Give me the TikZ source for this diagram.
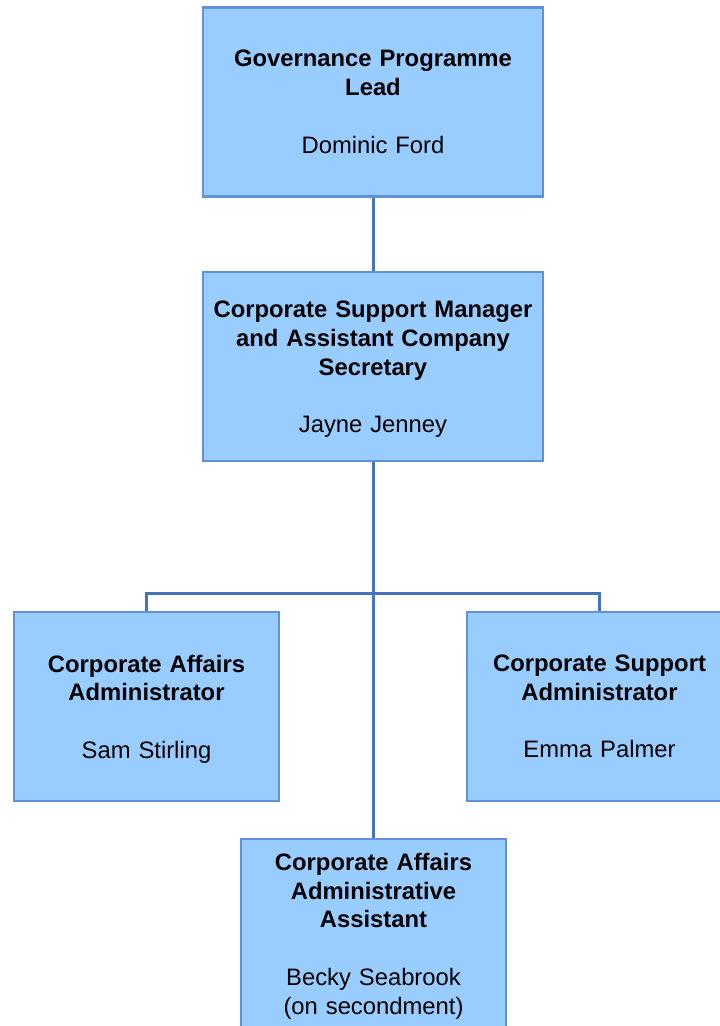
\documentclass[tikz,border=0pt]{standalone}
\usepackage{fontspec}
\setmainfont{Liberation Sans}
\definecolor{boxfill}{RGB}{153,204,255}
\definecolor{boxline}{RGB}{98,145,214}
\definecolor{conn}{RGB}{70,115,190}
\newcommand\lowerfix{\rule{0pt}{22.5pt}}
\begin{document}
\begin{tikzpicture}[x=1pt,y=-1pt,
  post/.style={draw=boxline,fill=boxfill,line width=2.6pt,inner sep=0pt,
    minimum height=189pt,align=center,
    font=\fontsize{23.8pt}{28.8pt}\selectfont},
  wide/.style={minimum width=340pt,text width=330pt},
  narrow/.style={minimum width=265pt,text width=255pt},
  link/.style={draw=conn,line width=3pt}]
\useasboundingbox (0,0) rectangle (720,1026);
\node[post,wide] (lead) at (373,102) {\textbf{Governance Programme}\\\textbf{Lead}\\[28.8pt]Dominic Ford};
\node[post,wide] (mgr) at (373,366.5) {\lowerfix\textbf{Corporate Support Manager}\\\textbf{and Assistant Company}\\\textbf{Secretary}\\[28.8pt]Jayne Jenney};
\node[post,narrow] (caa) at (146.5,706.5) {\lowerfix\textbf{Corporate Affairs}\\\textbf{Administrator}\\[28.8pt]Sam Stirling};
\node[post,narrow] (csa) at (599.5,706.5) {\textbf{Corporate Support}\\\textbf{Administrator}\\[28.8pt]Emma Palmer};
\node[post,narrow] (asst) at (373.5,933.5) {\lowerfix\textbf{Corporate Affairs}\\\textbf{Administrative}\\\textbf{Assistant}\\[28.8pt]Becky Seabrook\\(on secondment)};
\coordinate (bar) at (373,593);
\draw[link] (lead.south) -- (mgr.north);
\draw[link] (mgr.south) -- (mgr.south |- asst.north);
\draw[link] (caa.north) |- (bar) -| (csa.north);
\end{tikzpicture}
\end{document}
